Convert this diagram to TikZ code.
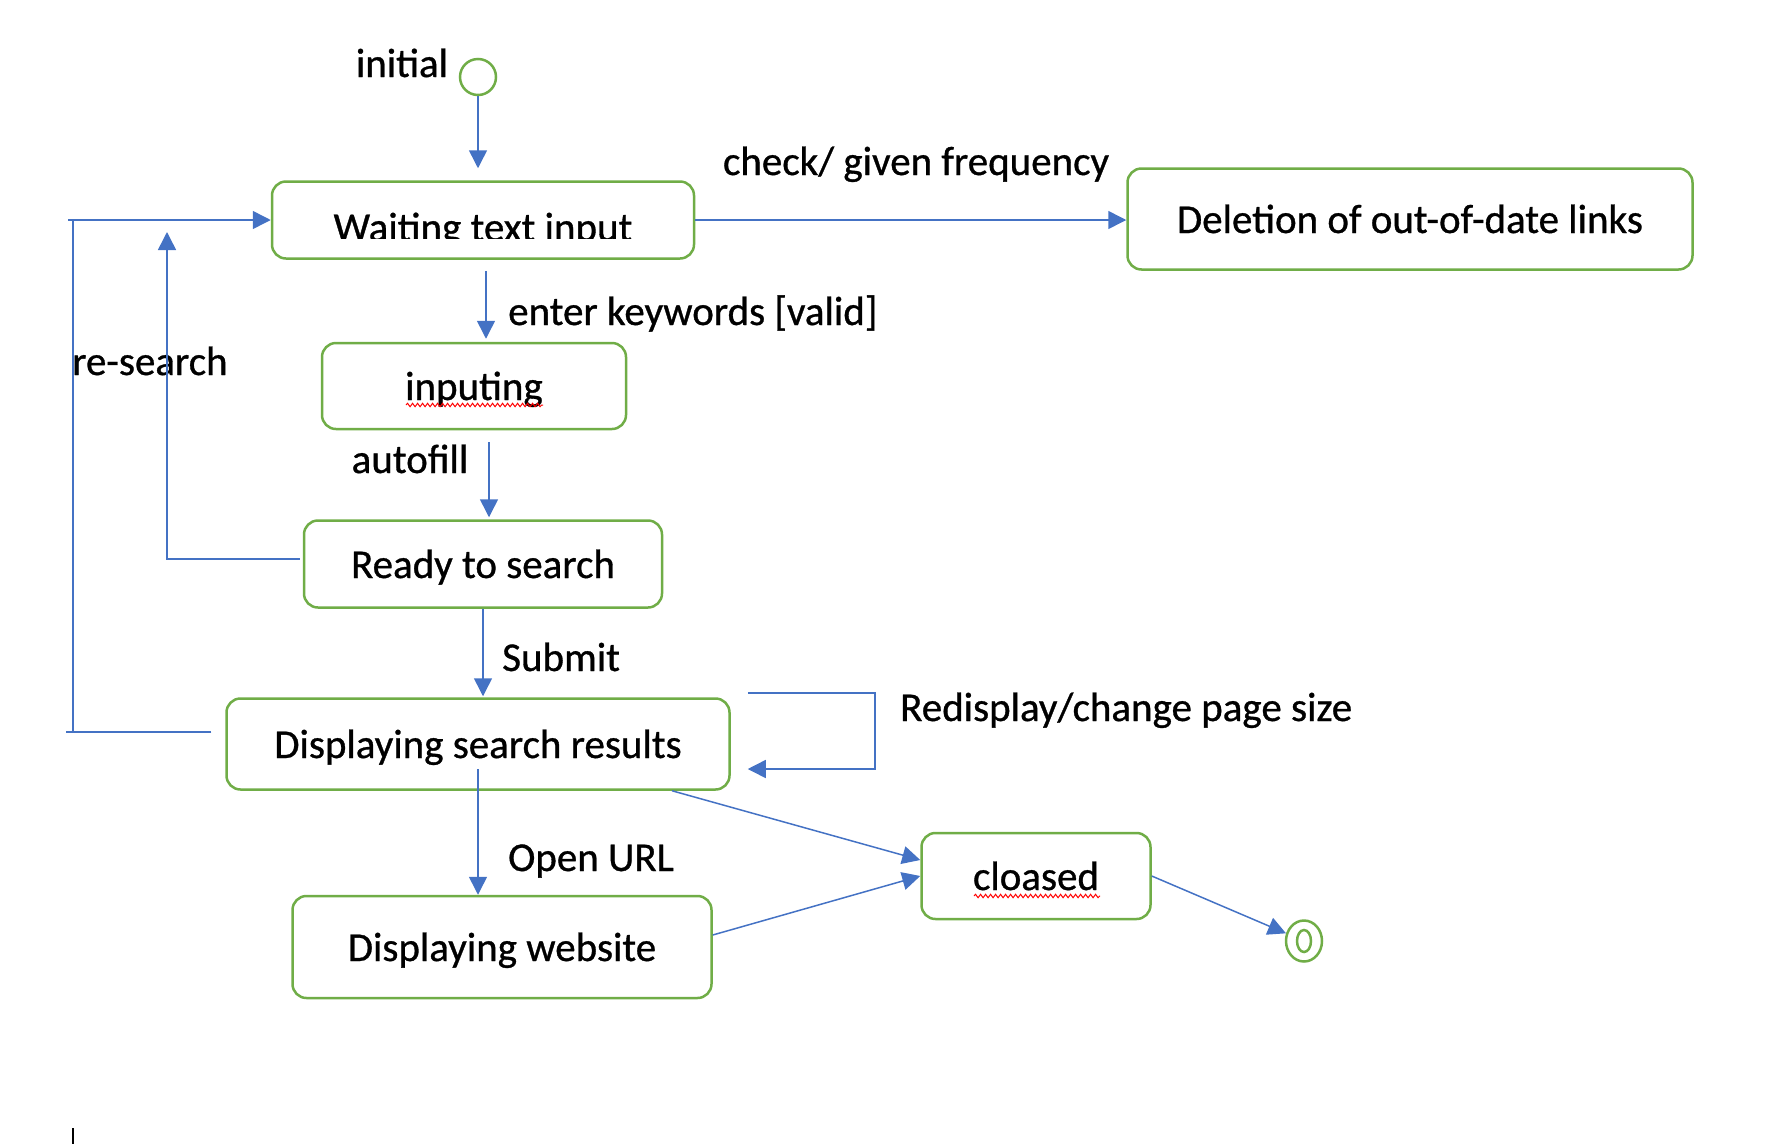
\documentclass[tikz,border=0pt]{standalone}
\usepackage{fontspec}
\setmainfont{Carlito}[FakeBold=0.8]
\usetikzlibrary{arrows.meta,shapes.geometric,decorations.pathmorphing}
\definecolor{sgreen}{HTML}{70AD47}
\definecolor{cblue}{HTML}{4472C4}
\begin{document}
\begin{tikzpicture}[x=1pt,y=-1pt,
  every node/.style={font=\fontsize{41}{49}\selectfont, inner sep=0pt, text height=38pt, text depth=10pt},
  state/.style={draw=sgreen, line width=2.5pt, rounded corners=14pt, fill=white},
  arr/.style={draw=cblue, line width=1.5pt, -{Triangle[length=18pt,width=18pt]}},
  conn/.style={draw=cblue, line width=1.5pt},
  wavy/.style={draw=red, line width=1pt, decorate, decoration={snake, amplitude=1.7pt, segment length=5pt}}]
\useasboundingbox (0,0) rectangle (1786,1144);

% states
\node[state, minimum width=422pt, minimum height=77pt] (wait) at (483,220) {};
\node[state, minimum width=565pt, minimum height=101pt] (del) at (1410,219) {Deletion of out-of-date links};
\node[state, minimum width=304pt, minimum height=86pt] (inp) at (474,386) {inputing};
\node[state, minimum width=358pt, minimum height=87pt] (ready) at (483,564) {Ready to search};
\node[state, minimum width=503pt, minimum height=91pt] (dsr) at (478,744) {Displaying search results};
\node[state, minimum width=419pt, minimum height=102pt] (dw) at (502,947) {Displaying website};
\node[state, minimum width=229pt, minimum height=86pt] (cl) at (1036,876) {cloased};
\node[circle, draw=sgreen, line width=2.5pt, minimum size=36pt, text height=0pt, text depth=0pt] (init) at (478,77) {};
\node[ellipse, draw=sgreen, line width=2.5pt, minimum width=36pt, minimum height=41pt, text height=0pt, text depth=0pt] (fin) at (1304,941) {};
\draw[sgreen, line width=2.5pt] (fin.center) ellipse [x radius=7pt, y radius=11pt];

% clipped text of the waiting state
\begin{scope}
\clip (wait.north west) rectangle (wait.east |- 0,238);
\node[anchor=base] (waittxt) at (483,241) {Waiting text input};
\end{scope}

% spelling underlines
\draw[wavy] ([xshift=-68pt,yshift=-19pt]inp.center) -- ([xshift=69pt,yshift=-19pt]inp.center);
\draw[wavy] ([xshift=-62pt,yshift=-20pt]cl.center) -- ([xshift=64pt,yshift=-20pt]cl.center);

% labels
\node (linit) at (402,63) {initial};
\node (lcheck) at (916,161) {check/ given frequency};
\node[anchor=west] (lres) at (72,361) {re-search};
\node[anchor=west] (lenter) at (508,311) {enter keywords [valid]};
\node (lauto) at (410,459) {autofill};
\node[anchor=west] (lsub) at (502,657) {Submit};
\node[anchor=west] (lredisp) at (900,707) {Redisplay/change page size};
\node[anchor=west] (lopen) at (508,857) {Open URL};

% connectors
\draw[arr, shorten >=12pt] (init.south) -- (init.south |- wait.north);
\draw[arr] (wait.east) -- (wait.east -| del.west);

\coordinate (lpb) at (73,732);
\coordinate (lpt) at (73,220);
\draw[conn] ([xshift=-14pt,yshift=12pt]dsr.west) -- ++(-145,0);
\draw[conn] (lpb) -- (lpt);
\draw[arr] ([xshift=-5pt]lpt) -- (wait.west);

\coordinate (rstop) at (167,232);
\draw[arr] ([xshift=-3pt,yshift=5pt]ready.west) -| (rstop);

\draw[arr, shorten <=11pt, shorten >=3pt] (wait.south -| 486,0) -- (inp.north -| 486,0);
\draw[arr, shorten <=12pt, shorten >=2pt] (inp.south -| 489,0) -- (ready.north -| 489,0);
\draw[arr, shorten >=1pt] (ready.south) -- (ready.south |- dsr.north);

\draw[arr] ([xshift=17pt,yshift=51pt]dsr.east) -- ++(127,0) -- ++(0,76) -- ++(-127,0);

\draw[arr] ([yshift=-25pt]dsr.center) -- (dsr.center |- dw.north);
\draw[arr] ([xshift=194pt]dsr.south) -- ([yshift=16pt]cl.west);
\draw[arr] ([yshift=12pt]dw.east) -- (cl.west);
\draw[arr] (cl.east) -- (fin);

\draw[black, line width=1.5pt] (73,1128) -- (73,1144);
\end{tikzpicture}
\end{document}
